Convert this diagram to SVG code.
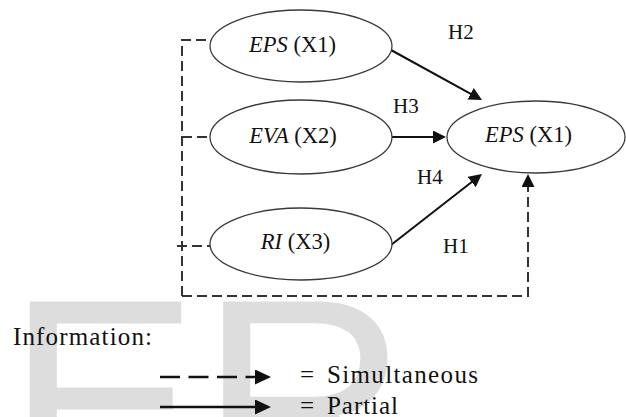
<svg xmlns="http://www.w3.org/2000/svg" width="626" height="417" viewBox="0 0 626 417">
<style>
.wm{font-family:"Liberation Sans",Arial,sans-serif;font-size:290px;fill:#dddddd}
.node ellipse{fill:#ffffff;stroke:#3a3a3a;stroke-width:1.3}
.lbl{font-family:'Liberation Serif','Times New Roman','DejaVu Serif',serif;font-size:22.5px;fill:#111}
.it{font-style:italic}
.h{font-family:'Liberation Serif','Times New Roman','DejaVu Serif',serif;font-size:21px;fill:#111}
.leg{font-family:'Liberation Serif','Times New Roman','DejaVu Serif',serif;font-size:25px;fill:#111}
.solid{fill:none;stroke:#111;stroke-width:2}
.dash{fill:none;stroke:#333;stroke-width:2;stroke-dasharray:10 5}
.ldash{fill:none;stroke:#111;stroke-width:2.4;stroke-dasharray:20 8.5}
.lsolid{fill:none;stroke:#111;stroke-width:2.4}
</style>
<defs>
<marker id="ah" markerUnits="userSpaceOnUse" markerWidth="14" markerHeight="14" refX="9" refY="6.5" orient="auto">
<path d="M0,0 L13,6.5 L0,13 z" fill="#111"/>
</marker>
<marker id="ahL" markerUnits="userSpaceOnUse" markerWidth="18" markerHeight="16" refX="12" refY="7.5" orient="auto">
<path d="M0,0 L16,7.5 L0,15 z" fill="#111"/>
</marker>
</defs>
<rect width="626" height="417" fill="#ffffff"/>
<text class="wm" x="6" y="501">ER</text>
<g id="connectors">
<path class="dash" d="M182,296 L182,40 L211,40"/>
<path class="dash" d="M182,137 L210,137"/>
<path class="dash" d="M177,246 L210,246"/>
<path class="dash" d="M182,296 L528,296 L528,178" marker-end="url(#ah)"/>
<path class="solid" d="M391,50 L478.5,98.1" marker-end="url(#ah)"/>
<path class="solid" d="M392,137 L442,137" marker-end="url(#ah)"/>
<path class="solid" d="M391,245 L478.8,176.5" marker-end="url(#ah)"/>
</g>
<g id="node-eps-x1-top" class="node">
<ellipse cx="301" cy="46" rx="91" ry="36"/>
<text class="lbl" x="292.5" y="52" text-anchor="middle"><tspan class="it">EPS</tspan> (X1)</text>
</g>
<g id="node-eva-x2" class="node">
<ellipse cx="301" cy="137" rx="91" ry="37"/>
<text class="lbl" x="293" y="143" text-anchor="middle"><tspan class="it">EVA</tspan> (X2)</text>
</g>
<g id="node-ri-x3" class="node">
<ellipse cx="301" cy="244" rx="91" ry="36"/>
<text class="lbl" x="295.5" y="249" text-anchor="middle"><tspan class="it">RI</tspan> (X3)</text>
</g>
<g id="node-eps-x1-right" class="node">
<ellipse cx="536" cy="137" rx="89" ry="36"/>
<text class="lbl" x="528.5" y="142" text-anchor="middle"><tspan class="it">EPS</tspan> (X1)</text>
</g>
<g id="labels">
<text class="h" x="448" y="39">H2</text>
<text class="h" x="393" y="113">H3</text>
<text class="h" x="417" y="184">H4</text>
<text class="h" x="443" y="253">H1</text>
</g>
<g id="legend">
<text class="leg" x="13" y="345" textLength="139" lengthAdjust="spacing">Information:</text>
<path class="ldash" d="M160,377 L267,377" marker-end="url(#ahL)"/>
<path class="lsolid" d="M160,407 L267,407" marker-end="url(#ahL)"/>
<text class="leg" x="300" y="383">=</text>
<text class="leg" x="327" y="383" textLength="151" lengthAdjust="spacing">Simultaneous</text>
<text class="leg" x="300" y="414">=</text>
<text class="leg" x="327" y="414" textLength="71" lengthAdjust="spacing">Partial</text>
</g>
</svg>
